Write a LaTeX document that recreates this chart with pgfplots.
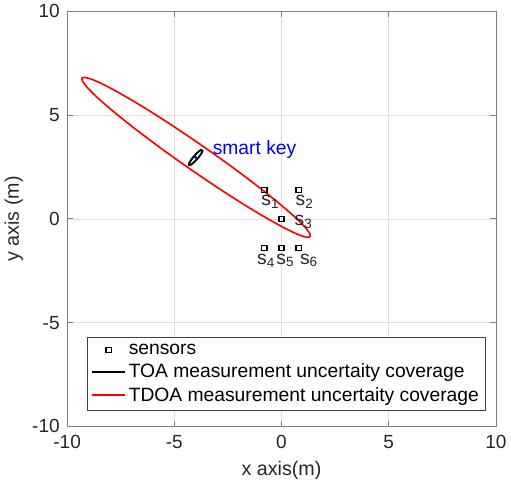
\documentclass[border=0pt]{standalone}
\usepackage{fontspec}
\setmainfont{Liberation Sans}
\usepackage{xcolor}
\usepackage{pgfplots}
\pgfplotsset{compat=1.18}
\definecolor{axgray}{RGB}{38,38,38}
\definecolor{gridgray}{RGB}{223,223,223}
\definecolor{boxgray}{RGB}{128,128,128}

\pgfplotsset{
  longline/.style={legend image code/.code={\draw[##1] (0cm,0cm) -- (0.85cm,0cm);}},
  midmark/.style={legend image code/.code={\draw[mark repeat=2,mark phase=2,##1] plot coordinates {(0cm,0cm) (0.425cm,0cm) (0.85cm,0cm)};}},
}

\begin{document}
\begin{tikzpicture}
\begin{axis}[
  scale only axis,
  width=316pt, height=306pt,
  xmin=-10, xmax=10, ymin=-10, ymax=10,
  xtick={-10,-5,0,5,10}, ytick={-10,-5,0,5,10},
  grid=major,
  grid style={line width=0.5pt, draw=gridgray},
  axis line style={draw=boxgray, line width=0.6pt},
  tick style={draw=boxgray, line width=0.6pt},
  tick align=inside,
  major tick length=4pt,
  ticklabel style={font=\fontsize{14}{16}\selectfont, text=axgray},
  xticklabel style={yshift=-3pt},
  yticklabel style={xshift=-2pt},
  /pgf/number format/assume math mode=true,
  xlabel={x axis(m)}, ylabel={y axis (m)},
  label style={font=\fontsize{14.5}{16}\selectfont, text=axgray},
  xlabel style={yshift=-2pt},
  ylabel style={yshift=0pt},
  legend cell align=left,
  legend style={at={(0.977,0.039)}, anchor=south east, draw=black!75,
    line width=0.5pt, fill=white,
    font=\fontsize{14.2}{16}\selectfont, text=black,
    row sep=1.5pt, inner sep=3pt},
]
% sensors
\addplot[only marks, mark=square, mark size=1.9pt, mark options={draw=black, line width=0.9pt}, midmark]
  coordinates {(-0.8,1.4) (0.8,1.4) (0,0) (-0.8,-1.4) (0,-1.4) (0.8,-1.4)};
\addlegendentry{sensors}

% TOA uncertainty ellipse around the smart key
\addplot[black, line width=1.4pt, smooth, longline] coordinates {
  (-3.691,3.328) (-3.771,3.311) (-3.912,3.199) (-4.077,3.024)
  (-4.222,2.831) (-4.307,2.673) (-4.309,2.592) (-4.229,2.609)
  (-4.088,2.721) (-3.923,2.896) (-3.778,3.089) (-3.693,3.247)
  (-3.691,3.328)};
\addlegendentry{TOA measurement uncertaity coverage}

% TDOA uncertainty ellipse
\addplot[red, line width=1.2pt, smooth, longline] coordinates {
  (1.340,-0.861) (1.322,-0.716) (1.143,-0.459) (0.808,-0.097)
  (0.328,0.356) (-0.283,0.889) (-1.006,1.485) (-1.821,2.126)
  (-2.699,2.792) (-3.618,3.463) (-4.547,4.118) (-5.459,4.740)
  (-6.326,5.307) (-7.123,5.801) (-7.822,6.210) (-8.406,6.521)
  (-8.855,6.723) (-9.156,6.810) (-9.300,6.781) (-9.282,6.636)
  (-9.103,6.379) (-8.768,6.017) (-8.288,5.564) (-7.677,5.031)
  (-6.954,4.435) (-6.139,3.794) (-5.261,3.128) (-4.342,2.457)
  (-3.413,1.802) (-2.501,1.180) (-1.634,0.613) (-0.837,0.119)
  (-0.138,-0.290) (0.446,-0.601) (0.895,-0.803) (1.196,-0.890)
  (1.340,-0.861)};
\addlegendentry{TDOA measurement uncertaity coverage}

% smart key position
\addplot[only marks, mark=*, mark size=0.9pt, blue, forget plot] coordinates {(-4,2.96)};

\node[anchor=west, text=blue, font=\fontsize{14.2}{16}\selectfont, inner sep=0pt] at (axis cs:-3.22,3.35) {smart key};

\begin{scope}[every node/.style={anchor=west, text=axgray, font=\fontsize{14.2}{16}\selectfont, inner sep=0pt}]
\node at (axis cs:-0.95,0.8) {s\textsubscript{1}};
\node at (axis cs:0.65,0.8) {s\textsubscript{2}};
\node at (axis cs:0.6,-0.15) {s\textsubscript{3}};
\node at (axis cs:-1.15,-2.0) {s\textsubscript{4}};
\node at (axis cs:-0.25,-2.0) {s\textsubscript{5}};
\node at (axis cs:0.85,-2.0) {s\textsubscript{6}};
\end{scope}
\end{axis}
\end{tikzpicture}
\end{document}
